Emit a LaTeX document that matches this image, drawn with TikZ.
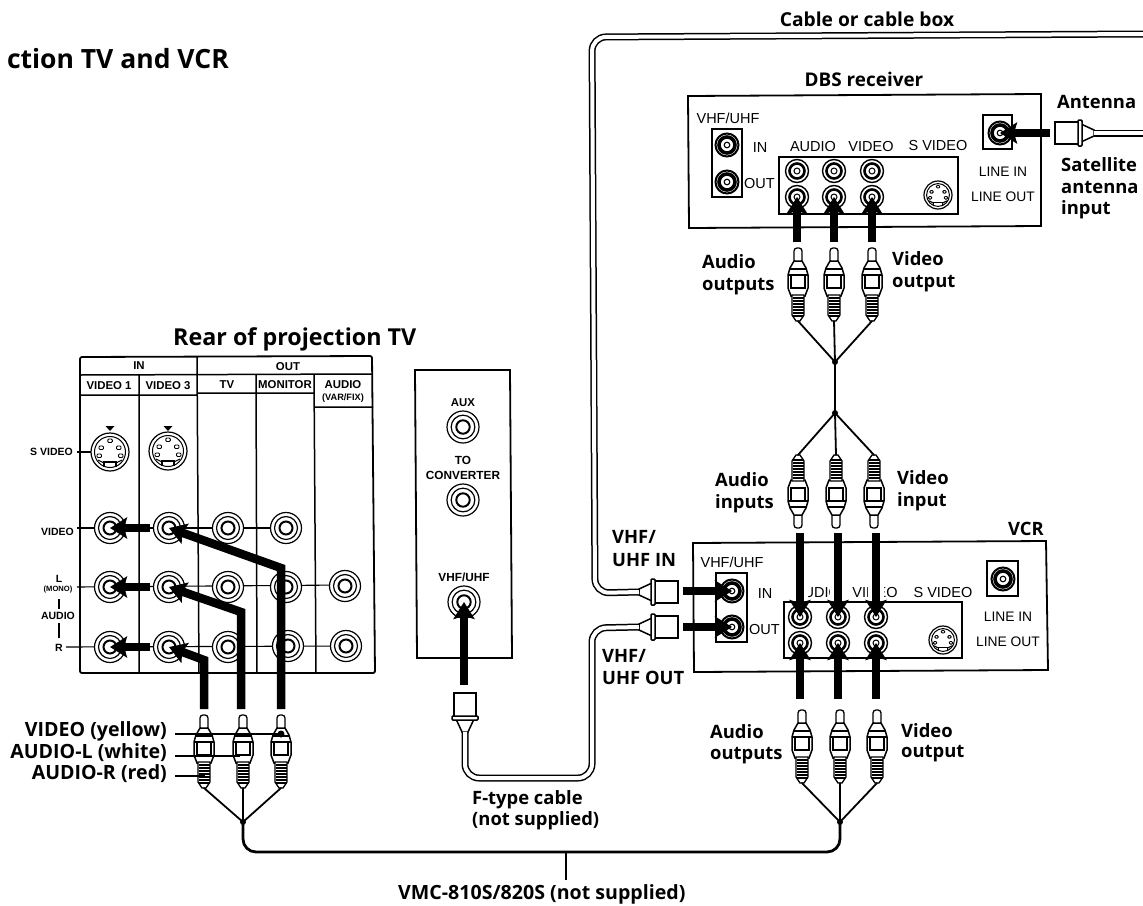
\documentclass[tikz,border=0pt]{standalone}
\usepackage{fontspec}
\setmainfont{Liberation Sans}
\newfontfamily\labf{Open Sans}
\newcommand\lab{\labf\bfseries}
\usetikzlibrary{arrows.meta}
\newcommand\fs[1]{\fontsize{#1}{#1}\selectfont}
\tikzset{
  x=1pt,y=-1pt,
  box/.style={draw=black,line width=1.8pt,fill=white},
  thin line/.style={draw=black,line width=1.1pt},
  wire/.style={draw=black,line width=1.8pt,line cap=round},
  coaxwire/.style={draw=black,line width=1.5pt,double=white,double distance=4pt,rounded corners=14pt},
  bar/.style={draw=black,line width=8.5pt,-{Stealth[length=17pt,width=21pt,inset=3pt]}},
  big/.style={font=\lab\fs{18.4},align=left,inner sep=0pt,text depth=0pt},
  bigger/.style={big,font=\lab\fs{19.6}},
  caplab/.style={font=\fs{14.5},inner sep=0pt},
  tvlab/.style={font=\bfseries\fs{11.4},inner sep=0pt},
  jackrim/.style={circle,draw=black,line width=1.2pt,fill=white,inner sep=0pt},
}
% RCA jack: name, x, y, outer radius
\newcommand\rca[4]{%
  \node[jackrim,minimum size=#4*2pt] (#1) at (#2,#3) {};
  \draw[line width=1.2pt] (#1.center) circle ({#4*0.74});
  \draw[line width=2pt] (#1.center) circle ({#4*0.42});
}
% small dark RCA jack on the rear of VCR / DBS
\newcommand\rcs[3]{%
  \node[jackrim,minimum size=23pt,line width=1.4pt] (#1) at (#2,#3) {};
  \draw[line width=2.6pt] (#1.center) circle (7.5);
  \draw[line width=1pt] (#1.center) circle (3);
}
% F-type socket on the panels
\newcommand\fsock[3]{%
  \node[circle,draw=black,line width=2pt,fill=white,minimum size=23pt,inner sep=0pt] (#1) at (#2,#3) {};
  \draw[line width=3.6pt] (#1.center) circle (8);
  \draw[line width=1.1pt] (#1.center) circle (2.8);
}
% S-video socket: name,x,y,radius
\newcommand\svid[4]{%
  \node[jackrim,minimum size=#4*2pt] (#1) at (#2,#3) {};
  \begin{scope}[shift={(#2,#3)},scale=#4/19]
    \draw[line width=1pt] (0,0) circle (15.5);
    \foreach \a/\b in {-2.2/-13,-11/-6,6.5/-6,-13/2,8.5/2}{
      \draw[line width=.9pt,rounded corners=1pt] (\a,\b) rectangle ++(4.5,3.5);}
    \draw[line width=1.1pt] (-6,15) -- (-6,10) -- (6,10) -- (6,15);
    \draw[line width=1.1pt] (-12,8) -- (-6,11) (12,8) -- (6,11);
  \end{scope}
}
% RCA plug: name, x, tip y, direction (1: tip on top, -1: tip at the bottom)
\newcommand\plug[4]{%
  \begin{scope}[shift={(#2,#3)},yscale=#4]
    \draw[line width=1.3pt,fill=white,rounded corners=3pt] (-4,15) -- (-4,0) -- (4,0) -- (4,15) -- cycle;
    \draw[line width=1.5pt,fill=white] (-8,20) -- (-4,13) -- (4,13) -- (8,20) -- (10,27) -- (10,40) -- (7,48) -- (-7,48) -- (-10,40) -- (-10,27) -- cycle;
    \draw[line width=1.2pt] (-8,21) -- (8,21) (-10,27) -- (10,27) (-8,40) -- (8,40);
    \draw[line width=1.2pt] (-7,27) -- (-7,40) (7,27) -- (7,40);
    \draw[line width=1.3pt,fill=white] (-6,47) -- (-6,67) -- (-2,73) -- (2,73) -- (6,67) -- (6,47) -- cycle;
    \foreach \q in {50,53,...,68}{\draw[line width=1.3pt] (-5.5,\q) -- (5.5,\q);}
    \coordinate (#1) at (0,73);
  \end{scope}
}
% F-type coax plug: name, x, y (flange centre), rotation; the body lies along the rotated +x
\newcommand\coax[4]{%
  \begin{scope}[shift={(#2,#3)},rotate=#4]
    \draw[line width=1.5pt,fill=white] (0,-9) -- (-13,-3) -- (-13,3) -- (0,9) -- cycle;
    \draw[line width=1.5pt,fill=white] (2,-11) rectangle (26,11);
    \draw[line width=1.5pt,fill=white,rounded corners=1pt] (-1,-13) rectangle (3,13);
    \coordinate (#1) at (-13,0);
  \end{scope}
}
\begin{document}
\begin{tikzpicture}
\useasboundingbox[fill=white] (0,0) rectangle (1143,905);

% ---------- titles
\node[big,font=\lab\fs{26.5},anchor=east] (title) at (229,58) {ction TV and VCR};
\node[big,font=\lab\fs{23.3},anchor=west] (rear) at (173,337) {Rear of projection TV};
\node[bigger,anchor=center,font=\lab\fs{19.2}] (cablelab) at (867,19) {Cable or cable box};
\node[bigger,anchor=center,font=\lab\fs{18.9}] (dbslab) at (864,79) {DBS receiver};

% ---------- TV panel
\draw[box,rounded corners=2pt] (80,357) -- (372,356) -- (375,673) -- (80,673) -- cycle;
\draw[line width=1.5pt] (80,375) -- (372,374)
  (80,395) -- (197,395) (197,393) -- (314,393) (314,407) -- (373,407)
  (139,375) -- (139,673) (197,357) -- (199,673) (256,375) -- (257,673) (314,375) -- (316,673);
\node[tvlab] (in) at (139,366) {IN};
\node[tvlab] (out) at (288,367) {OUT};
\node[tvlab] (v1) at (109,386) {VIDEO 1};
\node[tvlab] (v3) at (168,386) {VIDEO 3};
\node[tvlab] (tv) at (227,385) {TV};
\node[tvlab] (mon) at (285,385) {MONITOR};
\node[tvlab] (aud) at (343,385) {AUDIO};
\node[tvlab,font=\bfseries\fs{9.2}] (vf) at (343,398) {(VAR/FIX)};

\draw[thin line] (77,452) -- (110,452);
\fill (105.5,426) -- (114.5,426) -- (110,431) -- cycle;
\fill (163.5,426) -- (172.5,426) -- (168,431) -- cycle;
\svid{s1}{110}{452}{19}
\svid{s3}{168}{451}{19}

\draw[thin line] (77,528) -- (286,528);
\draw[thin line] (77,587) -- (345,585);
\draw[thin line] (66,647) -- (346,646);
\foreach \n/\x/\y in {va/110/528,vb/169/528,vc/228/528,vd/286/528,
                      la/110/587,lb/169/587,lc/228/587,ld/286/587,le/345/586,
                      ra/110/647,rb/169/647,rc/228/647,rd/288/646,re/346/646}{
  \rca{\n}{\x}{\y}{15.5}
}
\node[tvlab,font=\bfseries\fs{10.5},anchor=east] (lsv) at (73,452) {S VIDEO};
\node[tvlab,font=\bfseries\fs{10.5},anchor=east] (lvid) at (74,532) {VIDEO};
\node[tvlab,font=\bfseries\fs{10.5}] (ll) at (59,579) {L};
\node[tvlab,font=\bfseries\fs{7.6}] (lmono) at (58,590) {(MONO)};
\node[tvlab,font=\bfseries\fs{10.5}] (laud) at (58,616) {AUDIO};
\node[tvlab,font=\bfseries\fs{10.5}] (lr) at (59,648) {R};
\draw[line width=1.1pt] (59,599) -- (59,609) (59,623) -- (59,638);

% ---------- middle panel
\draw[box] (415,370) -- (510,370) -- (512,658) -- (417,658) -- cycle;
\node[tvlab] (laux) at (463,403) {AUX};
\rca{aux}{463}{427}{16}
\node[tvlab,font=\bfseries\fs{11.8}] (lto) at (463,460) {TO};
\node[tvlab,font=\bfseries\fs{11.8}] (lconv) at (463,475) {CONVERTER};
\rca{conv}{463}{500}{16}
\node[tvlab,font=\bfseries\fs{11.8}] (lvhf) at (464,577) {VHF/UHF};
\rca{vhf}{464}{602}{16}

% ---------- DBS box
\draw[box] (688,96) -- (1041,94) -- (1041,226) -- (689,228) -- cycle;
\draw[box,line width=1.5pt] (712,129) rectangle (742,197);
\draw[box,line width=1.5pt] (779,157) rectangle (958,214);
\draw[box,line width=1.5pt] (983,115) rectangle (1012,149);
\fsock{di}{727}{145}
\fsock{dq}{727}{182}
\fsock{dl}{1000}{133}
\node[caplab] (dt1) at (728,118) {VHF/UHF};
\node[caplab] (dt2) at (760,148) {IN};
\node[caplab,anchor=west] (dt3) at (744,184) {OUT};
\node[caplab] (dt4) at (813,147) {AUDIO};
\node[caplab] (dt5) at (871,147) {VIDEO};
\node[caplab] (dt6) at (938,146) {S VIDEO};
\node[caplab,font=\fs{13.8}] (dt7) at (1003,172) {LINE IN};
\node[caplab,font=\fs{13.8}] (dt8) at (1003,197) {LINE OUT};
\foreach \n/\x in {a/797,b/834,c/872}{
  \rcs{du\n}{\x}{171}
  \rcs{dd\n}{\x}{197}
}
\svid{ds}{938}{195}{14}

% ---------- VCR box
\draw[box] (693,543) -- (1046,541) -- (1048,670) -- (694,672) -- cycle;
\draw[box,line width=1.5pt] (716,573) rectangle (747,642);
\draw[box,line width=1.5pt] (784,602) rectangle (962,658);
\draw[box,line width=1.5pt] (987,561) rectangle (1018,596);
\fsock{vi}{732}{591}
\fsock{vq}{732}{627}
\fsock{vl}{1003}{579}
\node[caplab] (vt1) at (732,562) {VHF/UHF};
\node[caplab] (vt2) at (765,594) {IN};
\node[caplab,anchor=west] (vt3) at (749,629) {OUT};
\node[caplab] (vt4) at (817,593) {AUDIO};
\node[caplab] (vt5) at (875,593) {VIDEO};
\node[caplab] (vt6) at (943,592) {S VIDEO};
\node[caplab,font=\fs{13.8}] (vt7) at (1008,617) {LINE IN};
\node[caplab,font=\fs{13.8}] (vt8) at (1008,642) {LINE OUT};
\foreach \n/\x in {a/800,b/838,c/876}{
  \rcs{vu\n}{\x}{617}
  \rcs{vd\n}{\x}{643}
}
\svid{vs}{943}{640}{14}
\fill[white] (792,584) rectangle (808,601) (830,584) rectangle (846,601) (868,584) rectangle (884,601);

% ---------- plugs
\plug{pl1}{204}{715}{1}
\plug{pl2}{243}{715}{1}
\plug{pl3}{281}{715}{1}
\plug{pv1}{802}{710}{1}
\plug{pv2}{840}{710}{1}
\plug{pv3}{877}{710}{1}
\plug{pu1}{798}{248}{1}
\plug{pu2}{834}{248}{1}
\plug{pu3}{872}{248}{1}
\plug{pi1}{798}{528}{-1}
\plug{pi2}{836}{528}{-1}
\plug{pi3}{874}{528}{-1}
\coax{ci}{652}{592}{0}
\coax{cq}{652}{627}{0}
\coax{cf}{465}{719}{90}
\coax{ca}{1081}{133}{180}

% ---------- bold arrows
\draw[bar] (150,528) -- (va.center);
\draw[bar] (150,587) -- (la.center);
\draw[bar] (150,647) -- (ra.center);
\draw[bar] (204,709) -- (204,660) -- (rb.center);
\draw[bar] (241,709) -- (241,612) -- (lb.center);
\draw[bar] (281,709) -- (281,568) -- (vb.center);
\draw[bar] (464,685) -- (vhf.center);
\draw[bar] (683,591) -- (vi.center);
\draw[bar] (683,627) -- (vq.center);
\draw[bar] (800,699) -- (vda.center);
\draw[bar] (838,699) -- (vdb.center);
\draw[bar] (876,699) -- (vdc.center);
\draw[bar] (800,533) -- (vua.center);
\draw[bar] (838,533) -- (vub.center);
\draw[bar] (876,533) -- (vuc.center);
\draw[bar] (797,242) -- (dda.center);
\draw[bar] (834,242) -- (ddb.center);
\draw[bar] (872,242) -- (ddc.center);
\draw[bar] (1050,133) -- (dl.center);

% ---------- wires and cables
\coordinate (fanl) at (243,822);
\coordinate (fanr) at (840,822);
\coordinate (fanu) at (835,362);
\coordinate (fand) at (835,413);
\coordinate (tick) at (566,852);
\foreach \p in {pl1,pl2,pl3}{\draw[wire] (\p) -- (fanl);}
\foreach \p in {pv1,pv2,pv3}{\draw[wire] (\p) -- (fanr);}
\foreach \p in {pu1,pu2,pu3}{\draw[wire] (\p) -- (fanu);}
\foreach \p in {pi1,pi2,pi3}{\draw[wire] (\p) -- (fand);}
\draw[line width=2.6pt] (fanu) -- (fand);
\draw[line width=2.8pt,rounded corners=13pt] (fanl) -- (243,852) -- (840,852) -- (fanr);
\draw[line width=2pt] (tick) -- (566,880) coordinate (tickend);
\foreach \c in {fanl,fanr,fanu,fand}{\fill (\c) circle (3);}

\draw[coaxwire] (ci) -- (595,593) -- (592,37) -- (1143,34);
\draw[coaxwire] (cq) -- (592,628) -- (592,778) -- (465,778) -- (cf);
\draw[coaxwire] (ca) -- (1143,133);

% ---------- colour call-outs
\coordinate (cv) at (281,734);
\coordinate (cl) at (240,756);
\coordinate (cr) at (205,776);
\draw[line width=1.6pt] (175,734) -- (cv);
\draw[line width=1.6pt] (175,756) -- (cl);
\draw[line width=1.6pt] (175,776) -- (cr);
\fill (cv) circle (3.5);
\node[bigger,anchor=east] (t1) at (167,729) {VIDEO (yellow)};
\node[bigger,anchor=east] (t2) at (167,751) {AUDIO-L (white)};
\node[bigger,anchor=east] (t3) at (167,772) {AUDIO-R (red)};

% ---------- bold labels
\node[big,anchor=west] (t4) at (472,797) {F-type cable};
\node[big,anchor=west] (t5) at (472,818) {(not supplied)};
\node[bigger,anchor=west] (t6) at (398,892) {VMC-810S/820S (not supplied)};
\node[big,anchor=west] (t7) at (612,537) {VHF/};
\node[big,anchor=west] (t8) at (612,560) {UHF IN};
\node[big,anchor=west] (t9) at (602,656) {VHF/};
\node[big,anchor=west] (t10) at (602,678) {UHF OUT};
\node[big,anchor=west] (t11) at (710,731) {Audio};
\node[big,anchor=west] (t12) at (710,753) {outputs};
\node[big,anchor=west] (t13) at (901,730) {Video};
\node[big,anchor=west] (t14) at (901,751) {output};
\node[big,anchor=west] (t15) at (715,480) {Audio};
\node[big,anchor=west] (t16) at (715,502) {inputs};
\node[big,anchor=west] (t17) at (897,478) {Video};
\node[big,anchor=west] (t18) at (897,500) {input};
\node[big,anchor=east] (t19) at (1044,529) {VCR};
\node[big,anchor=west] (t20) at (702,262) {Audio};
\node[big,anchor=west] (t21) at (702,284) {outputs};
\node[big,anchor=west] (t22) at (892,259) {Video};
\node[big,anchor=west] (t23) at (892,281) {output};
\node[big,anchor=west] (t24) at (1057,102) {Antenna};
\node[big,anchor=west] (t25) at (1061,165) {Satellite};
\node[big,anchor=west] (t26) at (1061,187) {antenna};
\node[big,anchor=west] (t27) at (1061,208) {input};
\end{tikzpicture}
\end{document}
